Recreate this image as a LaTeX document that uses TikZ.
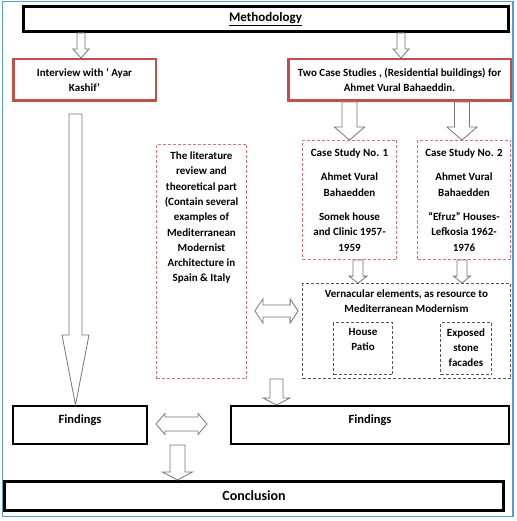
\documentclass[tikz,border=0pt]{standalone}
\usepackage{fontspec}
\setmainfont{Carlito}
\usepackage{tikz}
\usetikzlibrary{
	calc,
	positioning
}
\definecolor{boxred}{RGB}{192,80,77}
\definecolor{dashred}{RGB}{222,112,112}
\definecolor{dashgray}{RGB}{85,85,85}
\definecolor{arrowgray}{RGB}{118,118,118}
\definecolor{frameblue}{RGB}{91,155,213}
\tikzset{every path/.append style={line width=0.5pt}}
\tikzset{
	box/.style={rectangle,draw,align=center,inner sep=0pt,font=\fontsize{11}{15.3}\selectfont\bfseries},
	blackbox/.style={box,line width=2pt},
	heavybox/.style={box,line width=3pt},
	redbox/.style={box,draw=boxred,line width=2.5pt},
	reddash/.style={box,draw=dashred,line width=0.8pt,dash pattern=on 3pt off 2pt},
	graydash/.style={box,draw=dashgray,line width=0.8pt,dash pattern=on 3pt off 2pt},
	boxtext/.style={align=center,inner sep=0pt,font=\fontsize{11}{15.3}\selectfont\bfseries},
	blockarrow/.style={draw=arrowgray,fill=white,line width=0.8pt,line join=miter}
}
\newcommand{\tikzBox}[4][]{\node (#3) at #2 [#1] {#4};}
\newcommand{\tikzDownArrow}[6][]{\draw[blockarrow,#1] let \p1=#2, \p2=#3 in (\x1-#4pt,\y1) -- (\x1-#4pt,\y2+#6pt) -- (\x1-#5pt,\y2+#6pt) -- (\x1,\y2) -- (\x1+#5pt,\y2+#6pt) -- (\x1+#4pt,\y2+#6pt) -- (\x1+#4pt,\y1) -- cycle;}
\newcommand{\tikzBothArrow}[6][]{\draw[blockarrow,#1] let \p1=#2, \p2=#3 in (\x1,\y1) -- (\x1+#6pt,\y1+#5pt) -- (\x1+#6pt,\y1+#4pt) -- (\x2-#6pt,\y1+#4pt) -- (\x2-#6pt,\y1+#5pt) -- (\x2,\y1) -- (\x2-#6pt,\y1-#5pt) -- (\x2-#6pt,\y1-#4pt) -- (\x1+#6pt,\y1-#4pt) -- (\x1+#6pt,\y1-#5pt) -- cycle;}

\begin{document}
\begin{tikzpicture}[x=1pt,y=-1pt]
	\useasboundingbox (0,0) rectangle (516,521);
	\draw[frameblue,line width=1.5pt] (2.5,1.5) rectangle (513,516.5);
	
	\tikzBox[heavybox,minimum width=485pt,minimum height=25pt,font=\fontsize{13}{15}\selectfont\bfseries]{(265.5,19)}{meth}{\underline{Methodology}}
	\tikzBox[redbox,minimum width=142.5pt,minimum height=41.5pt]{(84.5,80)}{int}{Interview with ‘ Ayar\\Kashif’}
	\tikzBox[redbox,minimum width=222.5pt,minimum height=41.5pt]{(399.5,80)}{two}{Two Case Studies , (Residential buildings) for\\Ahmet Vural Bahaeddin.}
	\tikzBox[reddash,minimum width=94pt,minimum height=119pt]{(349.5,200)}{case1}{Case Study No. 1\\[9pt]Ahmet Vural\\Bahaedden\\[9pt]Somek house\\and Clinic 1957-\\1959}
	\tikzBox[reddash,minimum width=93pt,minimum height=119pt]{(464,200)}{case2}{Case Study No. 2\\[9pt]Ahmet Vural\\Bahaedden\\[9pt]“Efruz” Houses-\\Lefkosia 1962-\\1976}
	\tikzBox[reddash,minimum width=90pt,minimum height=234pt]{(201.5,261.5)}{lit}{}
	\tikzBox[graydash,minimum width=208pt,minimum height=95pt]{(406.5,331)}{vern}{}
	\tikzBox[graydash,minimum width=59pt,minimum height=52pt]{(363,348.5)}{patio}{}
	\tikzBox[graydash,minimum width=51pt,minimum height=52pt]{(466,348.5)}{stone}{}
	\tikzBox[blackbox,minimum width=134pt,minimum height=38pt]{(80,425)}{find1}{}
	\tikzBox[blackbox,minimum width=278pt,minimum height=38pt]{(370,425)}{find2}{}
	\tikzBox[heavybox,minimum width=499pt,minimum height=29pt,font=\fontsize{14}{16}\selectfont\bfseries]{(254,496)}{concl}{Conclusion}
	
	\node[boxtext,below=7.5pt of lit.north] (littext) {The literature\\review and\\theoretical part\\(Contain several\\examples of\\Mediterranean\\Modernist\\Architecture in\\Spain \& Italy};
	\node[boxtext,below=6pt of vern.north] (verntext) {Vernacular elements, as resource to\\Mediterranean Modernism};
	\node[boxtext,below=6pt of patio.north] (patiotext) {House\\Patio};
	\node[boxtext,below=6pt of stone.north] (stonetext) {Exposed\\stone\\facades};
	\node[boxtext,font=\fontsize{12.5}{15}\selectfont\bfseries,below=9pt of find1.north] (find1text) {Findings};
	\node[boxtext,font=\fontsize{12.5}{15}\selectfont\bfseries,below=9pt of find2.north] (find2text) {Findings};
	
	\tikzDownArrow{(meth.south -| 81,0)}{(int.north -| 81,0)}{4}{8}{9}
	\tikzDownArrow{(meth.south -| 401,0)}{(two.north -| 401,0)}{4}{8}{9}
	\tikzDownArrow{(two.south -| 349.5,0)}{(case1.north -| 349.5,0)}{7.5}{15}{13}
	\tikzDownArrow{(two.south -| 462,0)}{(case2.north -| 462,0)}{7.5}{15}{13}
	\tikzDownArrow{($(int.south -| 75.5,0)+(0,12)$)}{(find1.north -| 75.5,0)}{6.5}{13.5}{70}
	\tikzDownArrow{(case1.south -| 358,0)}{(vern.north -| 358,0)}{5}{9}{7}
	\tikzDownArrow{(case2.south -| 462,0)}{(vern.north -| 462,0)}{5}{8.5}{7}
	\tikzDownArrow{(vern.south -| 276.5,0)}{(find2.north -| 276.5,0)}{6.5}{13.5}{7}
	\tikzDownArrow{(find1.south -| 177.5,0)}{(concl.north -| 177.5,0)}{7.5}{15}{8}
	\tikzBothArrow{($(lit.east)+(8,49.5)$)}{($(vern.west)+(-4,-20)$)}{6}{12}{8}
	\tikzBothArrow{($(find1.east)+(8,-1)$)}{($(find2.west)+(-23,-1)$)}{7}{10.5}{9}
\end{tikzpicture}
\end{document}
